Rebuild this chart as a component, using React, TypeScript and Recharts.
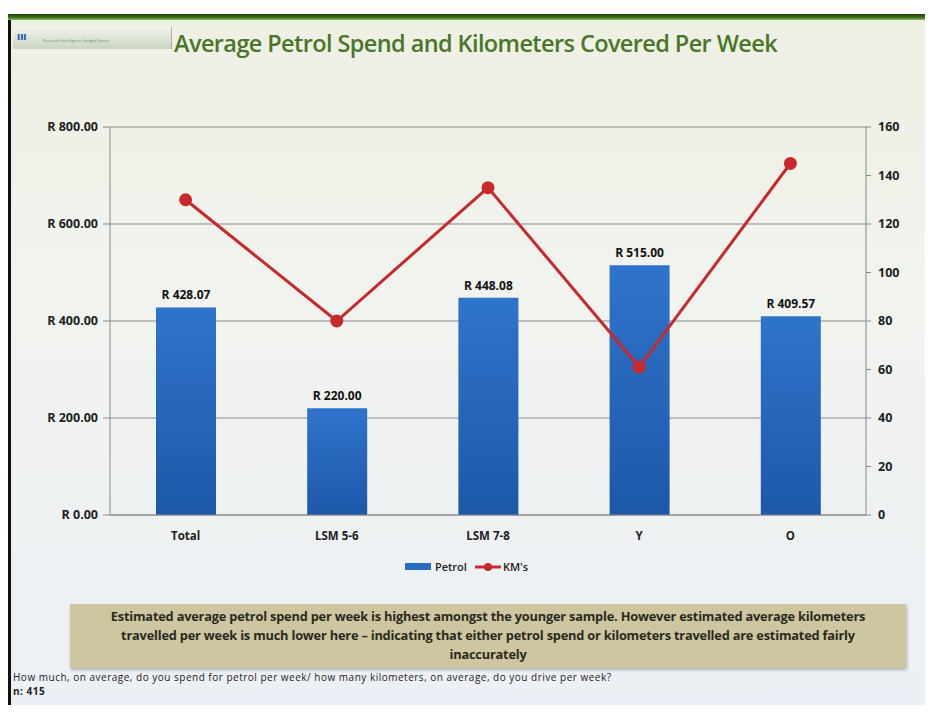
import {
  ComposedChart,
  Bar,
  Line,
  XAxis,
  YAxis,
  CartesianGrid,
  LabelList,
  Legend,
} from "recharts";

const segments = ["Total", "LSM 5-6", "LSM 7-8", "Y", "O"];
const petrolSpend = [428.07, 220.0, 448.08, 515.0, 409.57];
const kmsCovered = [130, 80, 135, 61, 145];
const randTicks = [0, 200, 400, 600, 800];
const kmTicks = [0, 20, 40, 60, 80, 100, 120, 140, 160];

const data = segments.map((segment, i) => ({
  segment,
  petrol: petrolSpend[i],
  kms: kmsCovered[i],
}));

const font = "'Open Sans', 'Liberation Sans', sans-serif";
const rand = (v: number) => `R ${v.toFixed(2)}`;

const renderLegend = () => (
  <div
    style={{
      display: "flex",
      justifyContent: "center",
      alignItems: "center",
      fontFamily: font,
      fontSize: 11,
      fontWeight: 600,
      color: "#222",
    }}
  >
    <span style={{ display: "inline-block", width: 26, height: 7, background: "#2a6cc0", marginRight: 4 }} />
    <span style={{ marginRight: 8 }}>Petrol</span>
    <svg width={26} height={12} style={{ marginRight: 2 }}>
      <line x1={0} y1={6} x2={26} y2={6} stroke="#c9282d" strokeWidth={3} />
      <circle cx={13} cy={6} r={4} fill="#c9282d" />
    </svg>
    <span>KM's</span>
  </div>
);

// plain text label so it never wraps
const barLabel = (props: any) => {
  const { x, y, width, value } = props;
  return (
    <text
      x={x + width / 2}
      y={y - 8}
      textAnchor="middle"
      fill="#111"
      fontSize={12}
      fontWeight={700}
      fontFamily={font}
    >
      {rand(value)}
    </text>
  );
};

export default function App() {
  return (
    <div
      style={{
        position: "relative",
        width: 933,
        height: 713,
        margin: -8,
        background: "#fff",
        overflow: "hidden",
      }}
    >
      {/* slide */}
      <div
        style={{
          position: "absolute",
          left: 8,
          top: 14,
          width: 925,
          height: 699,
          background: "linear-gradient(180deg, #eef0e4 0%, #f1f3ee 40%, #ecf0f6 100%)",
          borderLeft: "3px solid #111",
          boxSizing: "border-box",
        }}
      />
      <div
        style={{
          position: "absolute",
          left: 8,
          top: 14,
          width: 925,
          height: 6,
          background: "linear-gradient(180deg, #1f3d0c 0%, #3f7418 60%, #8fbf5a 100%)",
        }}
      />
      <div
        style={{
          position: "absolute",
          left: 8,
          top: 705,
          width: 925,
          height: 8,
          background: "linear-gradient(180deg, #c6e6a8 0%, #86c85a 100%)",
        }}
      />
      {/* logo strip */}
      <div
        style={{
          position: "absolute",
          left: 13,
          top: 27,
          width: 158,
          height: 22,
          background: "linear-gradient(180deg, #f2f4ee 0%, #c9d5bf 100%)",
          borderRight: "1px solid #aab",
        }}
      >
        <div style={{ position: "absolute", left: 4, top: 3, color: "#2a55c8", fontSize: 9, fontWeight: 900, fontFamily: font }}>
          III
        </div>
        <div style={{ position: "absolute", left: 30, top: 11, color: "#687", fontSize: 4, fontFamily: font, whiteSpace: "nowrap" }}>
          Research Intelligence Insight Expert
        </div>
      </div>
      <div
        style={{
          position: "absolute",
          left: 174,
          top: 27,
          fontFamily: "'Open Sans', sans-serif",
          fontWeight: 600,
          fontSize: 23.5,
          letterSpacing: -0.6,
          color: "#4a7628",
          whiteSpace: "nowrap",
        }}
      >
        Average Petrol Spend and  Kilometers Covered Per Week
      </div>

      <ComposedChart
        width={933}
        height={713}
        data={data}
        margin={{ top: 127, right: 17, left: 40, bottom: 168 }}
        style={{ position: "absolute", left: 0, top: 0 }}
      >
        <defs>
          <linearGradient id="barFill" x1="0" y1="0" x2="0" y2="1">
            <stop offset="0%" stopColor="#2f74cc" />
            <stop offset="100%" stopColor="#1d58a8" />
          </linearGradient>
        </defs>
        <CartesianGrid yAxisId="left" vertical={false} stroke="#8a8a8a" strokeWidth={1} />
        <XAxis
          dataKey="segment"
          tickLine={false}
          axisLine={{ stroke: "#888" }}
          tick={{ fill: "#222", fontSize: 11.5, fontWeight: 700, fontFamily: font }}
          tickMargin={11}
          height={30}
        />
        <YAxis
          yAxisId="left"
          domain={[0, 800]}
          ticks={randTicks}
          width={70}
          axisLine={{ stroke: "#888" }}
          tickLine={{ stroke: "#888" }}
          tickSize={7}
          tickMargin={5}
          tick={{ fill: "#222", fontSize: 12.5, fontWeight: 700, fontFamily: font }}
          tickFormatter={rand}
        />
        <YAxis
          yAxisId="right"
          orientation="right"
          domain={[0, 160]}
          ticks={kmTicks}
          width={50}
          axisLine={{ stroke: "#888" }}
          tickLine={{ stroke: "#888" }}
          tickSize={5}
          tickMargin={7}
          tick={{ fill: "#222", fontSize: 12.5, fontWeight: 700, fontFamily: font }}
        />
        <Bar yAxisId="left" dataKey="petrol" name="Petrol" fill="url(#barFill)" barSize={60} isAnimationActive={false}>
          <LabelList dataKey="petrol" content={barLabel} />
        </Bar>
        <Line
          yAxisId="right"
          dataKey="kms"
          name="KM's"
          stroke="#c9282d"
          strokeWidth={3}
          dot={{ r: 5, fill: "#c9282d", stroke: "#c9282d" }}
          isAnimationActive={false}
        />
        <Legend
          layout="horizontal"
          verticalAlign="middle"
          align="center"
          content={renderLegend}
          wrapperStyle={{ top: 559, left: 0, width: 933 }}
        />
      </ComposedChart>

      {/* commentary box */}
      <div
        style={{
          position: "absolute",
          left: 70,
          top: 604,
          width: 836,
          height: 64,
          background: "#cdc6a0",
          boxShadow: "1px 2px 3px rgba(0,0,0,0.25)",
          fontFamily: font,
          fontWeight: 700,
          fontSize: 12.8,
          letterSpacing: -0.2,
          lineHeight: "19px",
          color: "#2a2a1e",
          textAlign: "center",
          padding: "3px 20px 0",
          boxSizing: "border-box",
        }}
      >
        Estimated average petrol spend per week is highest amongst the younger sample. However estimated average kilometers
        travelled per week is much lower here – indicating that either petrol spend or kilometers travelled are estimated fairly
        inaccurately
      </div>
      <div
        style={{
          position: "absolute",
          left: 13,
          top: 670,
          fontFamily: font,
          fontSize: 10,
          letterSpacing: 0.5,
          lineHeight: "14px",
          color: "#222",
          whiteSpace: "nowrap",
        }}
      >
        How much, on average, do you spend for petrol per week/ how many kilometers, on average, do you drive per week?
        <br />
        <b>n: 415</b>
      </div>
    </div>
  );
}
